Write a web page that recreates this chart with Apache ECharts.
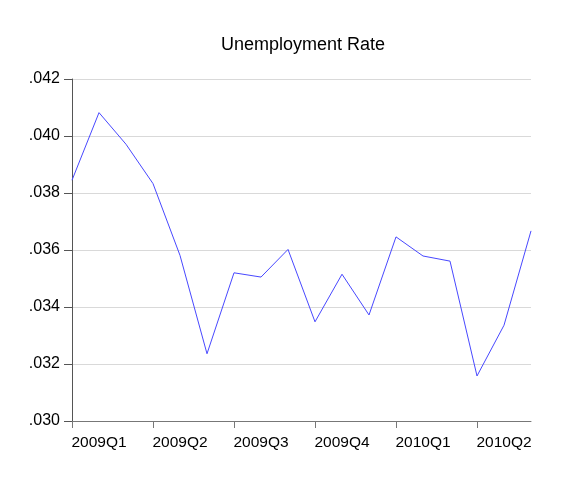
<!DOCTYPE html>
<html>
<head>
<meta charset="utf-8">
<script src="https://cdn.jsdelivr.net/npm/echarts@6/dist/echarts.min.js"></script>
<style>
  html, body { margin: 0; padding: 0; background: #fff; }
</style>
</head>
<body>
<div id="myChart" style="width: 588px; height: 480px;"></div>
<script>
// monthly observations, 2009M01 .. 2010M06
var months = ["2009M01", "2009M02", "2009M03", "2009M04", "2009M05", "2009M06",
  "2009M07", "2009M08", "2009M09", "2009M10", "2009M11", "2009M12",
  "2010M01", "2010M02", "2010M03", "2010M04", "2010M05", "2010M06"];
var rate = [0.03845, 0.04082, 0.03971, 0.03833, 0.03581, 0.03236,
  0.03520, 0.03505, 0.03602, 0.03348, 0.03515, 0.03372,
  0.03646, 0.03579, 0.03561, 0.03158, 0.03336, 0.03667];
var quarterLabels = ["2009Q1", "2009Q2", "2009Q3", "2009Q4", "2010Q1", "2010Q2"];

var myChart = echarts.init(document.getElementById("myChart"));
myChart.setOption({
  animation: false,
  backgroundColor: "#ffffff",
  textStyle: { fontFamily: "Liberation Sans, Arial, sans-serif" },
  title: {
    text: "Unemployment Rate",
    left: 216,
    top: 31,
    textStyle: { fontSize: 18, fontWeight: "normal", color: "#000" }
  },
  grid: { left: 72, right: 57, top: 79, bottom: 59 },
  xAxis: {
    type: "category",
    data: months,
    boundaryGap: false,
    axisLine: { lineStyle: { color: "#777", width: 1 } },
    axisTick: {
      length: 7,
      interval: function (i) { return i % 3 === 0; },
      lineStyle: { color: "#777" }
    },
    axisLabel: {
      interval: function (i) { return i % 3 === 1; },
      formatter: function (v, i) { return quarterLabels[Math.floor(i / 3)]; },
      margin: 14,
      fontSize: 15.5,
      color: "#000"
    },
    splitLine: { show: false }
  },
  yAxis: {
    type: "value",
    min: 0.030,
    max: 0.042,
    interval: 0.002,
    axisLine: { show: true, lineStyle: { color: "#555", width: 1 } },
    axisTick: { show: true, length: 8, lineStyle: { color: "#555" } },
    axisLabel: {
      formatter: function (v) { return (Math.round(v * 1000) / 1000).toFixed(3).replace(/^0/, ""); },
      margin: 12,
      fontSize: 16,
      color: "#000"
    },
    splitLine: { lineStyle: { color: "#d9d9d9", width: 1 } }
  },
  series: [
    {
      name: "Unemployment Rate",
      type: "line",
      data: rate,
      symbol: "none",
      lineStyle: { color: "#4848ff", width: 1 }
    }
  ]
});
</script>
</body>
</html>
